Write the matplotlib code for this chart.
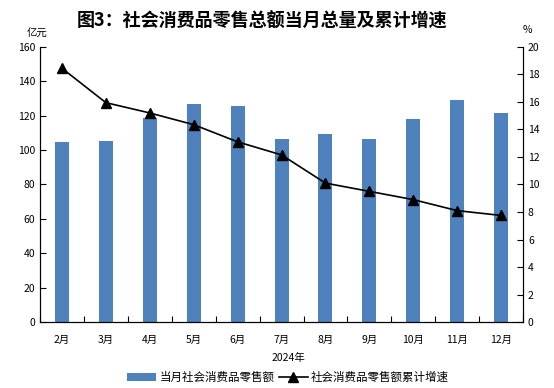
import matplotlib.pyplot as plt
import numpy as np

plt.rcParams['font.family'] = ['Noto Sans CJK SC', 'DejaVu Sans']

months = ['2月', '3月', '4月', '5月', '6月', '7月', '8月', '9月', '10月', '11月', '12月']
retail_total = [104.8, 105.3, 118.5, 126.8, 125.7, 106.5, 109.4, 106.5, 118.1, 129.1, 121.6]
growth_cum = [18.45, 15.95, 15.2, 14.35, 13.1, 12.15, 10.1, 9.5, 8.9, 8.1, 7.75]

fig = plt.figure(figsize=(5.54, 3.88), dpi=100)
ax = fig.add_axes([0.0722, 0.170, 0.872, 0.709])
ax2 = ax.twinx()

x = np.arange(len(months))
bars = ax.bar(x, retail_total, width=0.32, color='#4f81bd', zorder=2)
line, = ax2.plot(x, growth_cum, color='black', lw=1.2, marker='^', markersize=7.5, zorder=3)

ax.set_xlim(-0.5, len(months) - 0.5)
ax.set_ylim(0, 160)
ax.set_yticks(range(0, 161, 20))
ax2.set_ylim(0, 20)
ax2.set_yticks(range(0, 21, 2))

# ticks between categories, labels centred under bars
ax.set_xticks(np.arange(-0.5, len(months), 1))
ax.set_xticklabels([])
ax.set_xticks(x, minor=True)
ax.set_xticklabels(months, minor=True, fontsize=7.5)
ax.tick_params(axis='x', which='minor', length=0, pad=9)
ax.tick_params(axis='x', which='major', direction='in', length=4)
ax.tick_params(axis='y', direction='in', length=4, labelsize=7.5)
ax2.tick_params(axis='y', direction='in', length=4, labelsize=7.5)

for a in (ax, ax2):
    a.spines['top'].set_visible(False)

fig.text(0.473, 0.945, '图3：社会消费品零售总额当月总量及累计增速', ha='center', va='center',
         fontsize=13, fontweight='bold')
fig.text(0.067, 0.912, '亿元', ha='center', va='center', fontsize=7.5)
fig.text(0.952, 0.922, '%', ha='center', va='center', fontsize=7.5)
fig.text(0.52, 0.078, '2024年', ha='center', va='center', fontsize=7.5)

fig.legend([bars, line], ['当月社会消费品零售额', '社会消费品零售额累计增速'],
           loc='center', bbox_to_anchor=(0.52, 0.028), ncol=2, frameon=False,
           fontsize=8.3, handlelength=2.5, columnspacing=0.4, handletextpad=0.3)

fig.savefig('out.png', dpi=100)
